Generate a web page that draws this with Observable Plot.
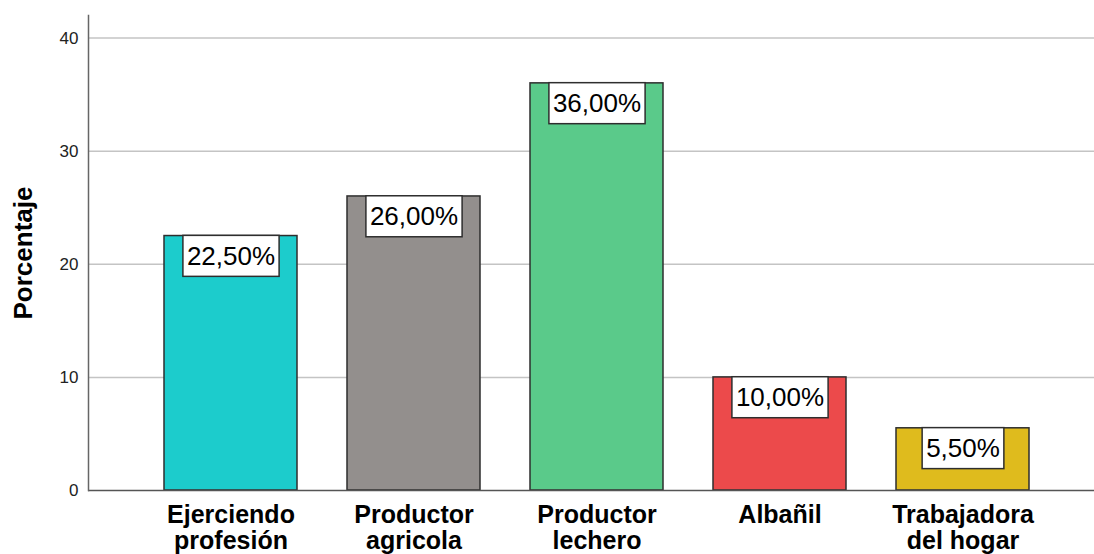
<!DOCTYPE html>
<html><head><meta charset="utf-8">
<script src="https://cdn.jsdelivr.net/npm/d3@7"></script>
<script src="https://cdn.jsdelivr.net/npm/@observablehq/plot@0.6"></script>
<style>
body{margin:0;background:#fff;}
svg{font-family:"Liberation Sans",Arial,sans-serif;}
</style>
</head><body><div id="chart"></div>
<script>
const categories = ["Ejerciendo\nprofesión","Productor\nagricola","Productor\nlechero","Albañil","Trabajadora\ndel hogar"];
const percentages = [22.5, 26, 36, 10, 5.5];
const colors = ["#1ccccc","#938f8d","#5aca8a","#ec4a4b","#dfbb1d"];
const yTicks = [0,10,20,30,40];
const yTitle = "Porcentaje";

const fmt = v => v.toFixed(2).replace(".", ",") + "%";
const data = categories.map((c,i)=>({category:c, value:percentages[i], color:colors[i]}));

const chart = Plot.plot({
  width:1094, height:554, marginLeft:88, marginRight:0, marginTop:15, marginBottom:64,
  style:{fontFamily:'"Liberation Sans",Arial,sans-serif', background:"white", color:"#222"},
  x:{domain:categories, paddingInner:0.275, paddingOuter:0.378, align:0.54, label:null},
  y:{domain:[0,42], label:null},
  color:{type:"identity"},
  marks:[
    Plot.gridY(yTicks.slice(1), {stroke:"#c4c4c4", strokeOpacity:1, strokeWidth:1.5}),
    Plot.barY(data,{x:"category", y:"value", fill:"color", stroke:"#2e2e2e", strokeWidth:1.5}),
    Plot.ruleY([0], {stroke:"#555", strokeWidth:1.5}),
    Plot.frame({anchor:"left", stroke:"#666", strokeWidth:1.5}),
    Plot.axisY({ticks:yTicks, tickSize:0, tickPadding:10, fontSize:17, label:null}),
    Plot.axisY({ticks:[], label:yTitle, labelAnchor:"center", labelArrow:"none", labelOffset:75, fontSize:26, fontWeight:"bold", fill:"#000"}),
    Plot.axisX({tickSize:0, tickPadding:14, fontSize:25, fontWeight:"bold", lineHeight:1.04, label:null, fill:"#000"}),
    Plot.text(data,{x:"category", y:"value", text: d=>fmt(d.value), dy:20.5, fontSize:26, fill:"#000", lineAnchor:"middle"})
  ]
});
document.getElementById("chart").append(chart);

// white boxes behind value labels
const svg = d3.select(chart);
svg.selectAll('g[aria-label="text"] text').each(function(){
  const b = this.getBBox();
  const padX = 4, padY = 6;
  const parent = this.parentNode;
  const r = document.createElementNS("http://www.w3.org/2000/svg","rect");
  r.setAttribute("x", b.x - padX);
  r.setAttribute("y", b.y - padY + (b.height - 29)/2);
  r.setAttribute("width", b.width + 2*padX);
  r.setAttribute("height", 29 + 2*padY);
  r.setAttribute("fill", "#fff");
  r.setAttribute("stroke", "#2e2e2e");
  r.setAttribute("stroke-width", 1.5);
  const t = this.getAttribute("transform");
  if (t) r.setAttribute("transform", t);
  parent.insertBefore(r, this);
});
</script>
</body></html>
